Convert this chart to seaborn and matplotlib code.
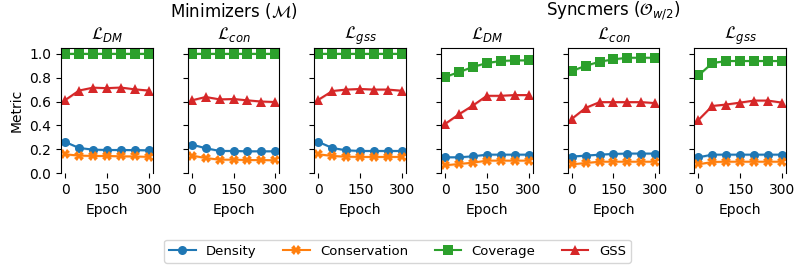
# Training curves: minimizers vs syncmers under three losses
import matplotlib.pyplot as plt
import pandas as pd
import seaborn as sns

epochs = [0, 50, 100, 150, 200, 250, 300]
metrics = ['Density', 'Conservation', 'Coverage', 'GSS']
loss_titles = [r'$\mathcal{L}_{DM}$', r'$\mathcal{L}_{con}$', r'$\mathcal{L}_{gss}$']
group_titles = [r'Minimizers ($\mathcal{M}$)', r'Syncmers ($\mathcal{O}_{w/2}$)']

# minimizers
min_dm = {
    'Density': [0.262, 0.212, 0.198, 0.195, 0.195, 0.194, 0.192],
    'Conservation': [0.159, 0.148, 0.145, 0.145, 0.142, 0.141, 0.137],
    'Coverage': [1.0, 1.0, 1.0, 1.0, 1.0, 1.0, 1.0],
    'GSS': [0.612, 0.692, 0.716, 0.712, 0.717, 0.702, 0.692],
}
min_con = {
    'Density': [0.240, 0.210, 0.187, 0.187, 0.184, 0.184, 0.184],
    'Conservation': [0.148, 0.128, 0.114, 0.114, 0.111, 0.111, 0.109],
    'Coverage': [1.0, 1.0, 1.0, 1.0, 1.0, 1.0, 1.0],
    'GSS': [0.610, 0.638, 0.618, 0.621, 0.610, 0.600, 0.596],
}
min_gss = {
    'Density': [0.262, 0.212, 0.192, 0.187, 0.187, 0.187, 0.187],
    'Conservation': [0.159, 0.145, 0.139, 0.137, 0.137, 0.137, 0.137],
    'Coverage': [1.0, 1.0, 1.0, 1.0, 1.0, 1.0, 1.0],
    'GSS': [0.615, 0.688, 0.700, 0.705, 0.700, 0.700, 0.690],
}
# syncmers
syn_dm = {
    'Density': [0.134, 0.134, 0.142, 0.156, 0.156, 0.156, 0.156],
    'Conservation': [0.067, 0.078, 0.089, 0.106, 0.106, 0.106, 0.106],
    'Coverage': [0.805, 0.847, 0.889, 0.922, 0.939, 0.944, 0.944],
    'GSS': [0.413, 0.494, 0.567, 0.648, 0.648, 0.654, 0.654],
}
syn_con = {
    'Density': [0.140, 0.148, 0.156, 0.162, 0.165, 0.165, 0.165],
    'Conservation': [0.075, 0.086, 0.097, 0.097, 0.097, 0.097, 0.097],
    'Coverage': [0.855, 0.899, 0.933, 0.953, 0.966, 0.966, 0.966],
    'GSS': [0.455, 0.547, 0.595, 0.595, 0.595, 0.595, 0.587],
}
syn_gss = {
    'Density': [0.134, 0.156, 0.156, 0.156, 0.156, 0.156, 0.156],
    'Conservation': [0.075, 0.095, 0.097, 0.097, 0.097, 0.097, 0.097],
    'Coverage': [0.818, 0.922, 0.939, 0.939, 0.939, 0.939, 0.939],
    'GSS': [0.446, 0.563, 0.575, 0.591, 0.608, 0.608, 0.591],
}
# rough half-width of the shaded bands
band = 0.01

panels = [min_dm, min_con, min_gss, syn_dm, syn_con, syn_gss]
colors = dict(zip(metrics, sns.color_palette('tab10', 4)))
markers = {'Density': 'o', 'Conservation': 'X', 'Coverage': 's', 'GSS': '^'}

fig, axes = plt.subplots(1, 6, figsize=(7.95, 2.66), dpi=100, sharey=True)
fig.subplots_adjust(left=0.0767, right=0.9887, top=0.8207, bottom=0.3485, wspace=0.38)

for i, (ax, pdata) in enumerate(zip(axes, panels)):
    rows = []
    for m in metrics:
        for e, v in zip(epochs, pdata[m]):
            rows.append({'Epoch': e, 'value': v, 'Metric': m})
    df = pd.DataFrame(rows)
    sns.lineplot(data=df, x='Epoch', y='value', hue='Metric', style='Metric',
                 markers=markers, dashes=False, palette=colors, ax=ax,
                 markersize=6.5, markeredgewidth=0, linewidth=1.5,
                 errorbar=None, legend=(i == 0))
    for m in metrics:
        lo = [v - band for v in pdata[m]]
        hi = [v + band for v in pdata[m]]
        ax.fill_between(epochs, lo, hi, color=colors[m], alpha=0.2, linewidth=0)
    ax.set_title(loss_titles[i % 3], fontsize=12)
    ax.set_ylim(0, 1.05)
    ax.set_xticks([0, 150, 300])
    ax.set_yticks([0.0, 0.2, 0.4, 0.6, 0.8, 1.0])
    ax.set_xlabel('Epoch')
    ax.set_ylabel('Metric' if i == 0 else '')
    ax.spines['bottom'].set_visible(False)

handles, labels = axes[0].get_legend_handles_labels()
axes[0].get_legend().remove()
fig.legend(handles, labels, loc='lower center', ncol=4, borderaxespad=0,
           bbox_to_anchor=(0.5, 0.011), fontsize=9.5)

for j, t in enumerate(group_titles):
    ax = axes[3 * j + 1]
    pos = ax.get_position()
    fig.text((pos.x0 + pos.x1) / 2, 0.958, t, ha='center', va='center', fontsize=12)

plt.savefig('out.png')
